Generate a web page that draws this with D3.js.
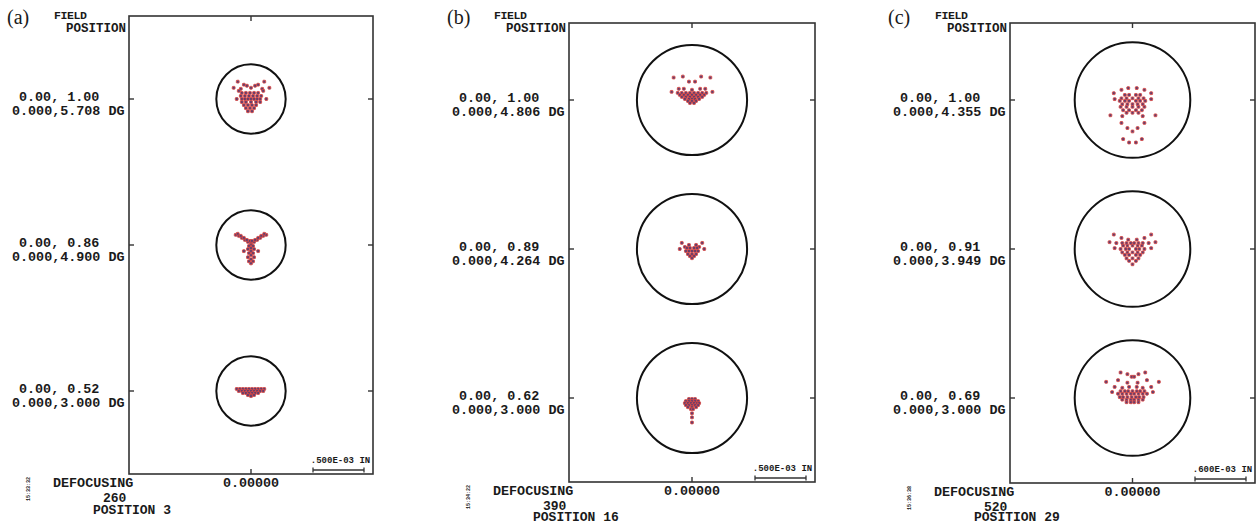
<!DOCTYPE html>
<html>
<head>
<meta charset="utf-8">
<script src="https://cdn.jsdelivr.net/npm/d3@7"></script>
<style>
  body { margin: 0; background: #fff; }
  text { font-family: "Liberation Mono", "DejaVu Sans Mono", monospace; font-weight: bold; fill: #1a1a1a; }
  .tag { font-family: "Liberation Serif", "DejaVu Serif", serif; font-weight: normal; }
</style>
</head>
<body>
<div class="canvas"></div>
<script>
var w = 1259;
var h = 525;

// ---- data ----
var panelTags = ["(a)", "(b)", "(c)"];
var fieldNorm = [
    ["0.00, 1.00", "0.00, 0.86", "0.00, 0.52"],
    ["0.00, 1.00", "0.00, 0.89", "0.00, 0.62"],
    ["0.00, 1.00", "0.00, 0.91", "0.00, 0.69"]];
var fieldAngle = [
    ["0.000,5.708 DG", "0.000,4.900 DG", "0.000,3.000 DG"],
    ["0.000,4.806 DG", "0.000,4.264 DG", "0.000,3.000 DG"],
    ["0.000,4.355 DG", "0.000,3.949 DG", "0.000,3.000 DG"]];
var defocusing = ["260", "390", "520"];
var positionLabel = ["POSITION 3", "POSITION 16", "POSITION 29"];
var timeStamp = ["15:33:32", "15:34:22", "15:36:38"];
var scaleLabel = [".500E-03 IN", ".500E-03 IN", ".600E-03 IN"];
var scaleValue = [50, 50, 60];     // units of 1e-5 IN
var airyRadius = [34, 54, 68];     // units of 1e-5 IN

// spot points, [x, y] in 1e-5 IN, y up
var spotA1 = [[-13,17],[13,17],[-17,11],[18,11],[-7,14],[7,14],[-10,10],[11,10],[-14,0],[15,0],[0,11],[-4,13],[4,13],[-12,8],[12,8],
    [-9,6],[-5,6],[-1,6],[3,6],[7,6],[-10,3],[-6,3],[-2,3],[2,3],[6,3],[10,3],
    [-9,0],[-6,0],[-3,0],[0,0],[3,0],[6,0],[9,0],[-9,-3],[-5,-3],[0,-3],[5,-3],[9,-3],
    [-7,-6],[-3,-6],[1,-6],[5,-6],[-5,-9],[-1,-9],[3,-9],[-3,-12],[1,-12]];
var spotA2 = [[-15,10],[-12,9],[-9,7],[-6,5],[-3,3],[0,2],[3,3],[6,5],[9,7],[12,9],[15,10],
    [-13,11],[13,11],[-10,9],[10,9],[-7,7],[7,7],[-4,5],[4,5],[-1,4],[1,4],
    [0,0],[-2,-1],[2,-1],[0,-3],[-3,-4],[3,-4],[0,-6],[-2,-8],[2,-8],[0,-10],[-3,-12],[3,-12],
    [0,-14],[-2,-16],[2,-16],[0,-18],[-7,-6],[7,-6]];
var spotA3 = [[-14,2],[-11,2],[-8,2],[-5,2],[-2,2],[1,2],[4,2],[7,2],[10,2],[13,2],
    [-12,0],[-9,0],[-6,0],[-3,0],[0,0],[3,0],[6,0],[9,0],[12,0],
    [-8,-2],[-5,-2],[-2,-2],[1,-2],[4,-2],[7,-2],[-3,-4],[0,-4],[3,-4],[0,-5]];
var spotB1 = [[-18,22],[-9,23],[9,23],[18,22],[-3,18],[3,18],[-20,8],[-13,11],[-8,11],[0,10],[8,11],[13,11],[20,8],
    [-14,7],[-10,7],[-6,7],[-2,7],[2,7],[6,7],[10,7],[14,7],
    [-12,5],[-8,5],[-4,5],[0,5],[4,5],[8,5],[12,5],
    [-10,3],[-6,3],[-2,3],[2,3],[6,3],[10,3],
    [-7,1],[-3,1],[0,1],[3,1],[7,1],[-4,-1],[0,-1],[4,-1],[-2,-3],[2,-3]];
var spotB2 = [[-10,6],[-3,4],[4,4],[10,6],[-12,0],[12,0],[-7,2],[7,2],
    [-5,1],[-2,1],[2,1],[5,1],[-6,-2],[-3,-2],[0,-2],[3,-2],[6,-2],
    [-4,-5],[0,-5],[4,-5],[-2,-7],[2,-7],[0,-9]];
var spotB3 = [[-3,-1],[0,-1],[3,-1],[-6,-3],[-3,-3],[0,-3],[3,-3],[6,-3],
    [-7,-5],[-4,-5],[-1,-5],[2,-5],[5,-5],[7,-5],[-6,-7],[-3,-7],[0,-7],[3,-7],[6,-7],
    [-4,-9],[0,-9],[4,-9],[-1,-11],[1,-11],[0,-15],[0,-19],[0,-24]];
var spotC1 = [[-22,8],[-13,12],[-5,14],[5,14],[14,12],[22,8],[-21,1],[22,1],[-26,-18],[27,-18],
    [-13,-27],[14,-27],[-6,-33],[0,-37],[6,-33],[-11,-46],[-4,-50],[4,-50],[11,-46],
    [-9,6],[-4,6],[4,6],[9,6],[-13,2],[-7,2],[0,2],[7,2],[13,2],
    [-15,-1],[-9,-1],[-4,-1],[4,-1],[9,-1],[15,-1],[-12,-5],[-6,-5],[0,-5],[6,-5],[12,-5],
    [-14,-8],[-7,-8],[0,-8],[7,-8],[14,-8],[-11,-12],[-4,-12],[4,-12],[11,-12],
    [-7,-15],[0,-15],[7,-15],[-12,-19],[12,-19]];
var spotC2 = [[-22,17],[-13,13],[-5,11],[5,11],[14,13],[22,17],[-27,8],[-19,7],[-12,7],[12,7],[19,7],[27,8],[-21,1],[22,1],
    [-7,7],[-2,7],[2,7],[7,7],[-11,4],[-6,4],[0,4],[6,4],[11,4],
    [-14,0],[-8,0],[-4,0],[4,0],[8,0],[14,0],[-12,-4],[-6,-4],[0,-4],[6,-4],[12,-4],
    [-9,-7],[-4,-7],[4,-7],[9,-7],[-7,-11],[0,-11],[7,-11],[-4,-14],[4,-14],[0,-18]];
var spotC3 = [[-14,30],[-6,28],[7,28],[15,30],[-1,25],[2,25],[-31,19],[31,19],[-17,21],[17,21],
    [-6,18],[6,18],[-4,13],[5,13],[-21,13],[22,13],[-24,7],[24,7],[-12,12],[12,12],
    [-14,8],[-9,8],[-5,8],[0,8],[5,8],[9,8],[14,8],
    [-17,5],[-12,5],[-7,5],[-2,5],[2,5],[7,5],[12,5],[17,5],
    [-15,1],[-11,1],[-6,1],[-1,1],[4,1],[8,1],[13,1],
    [-12,-2],[-7,-2],[-2,-2],[2,-2],[7,-2],[12,-2],[-7,-5],[-2,-5],[2,-5],[7,-5]];
var spots = [[spotA1, spotA2, spotA3], [spotB1, spotB2, spotB3], [spotC1, spotC2, spotC3]];

// ---- layout ----
var boxes = [
    {x: 129, y: 16, w: 244, h: 458, f0: 99, f2: 391, ppu: 1.02},
    {x: 569, y: 23, w: 246, h: 459, f0: 100, f2: 398, ppu: 1.02},
    {x: 1010, y: 23, w: 245, h: 460, f0: 100, f2: 398, ppu: 0.85}];

var svg = d3.select(".canvas").append("svg")
    .attr("width", w)
    .attr("height", h);

boxes.forEach(function (b, i) {
    var g = svg.append("g");
    var cx = b.x + b.w / 2;
    var bottom = b.y + b.h;
    var right = b.x + b.w;

    var fy = d3.scalePoint()
        .domain([0, 1, 2])
        .range([b.f0, b.f2]);

    g.append("rect")
        .attr("x", b.x).attr("y", b.y)
        .attr("width", b.w).attr("height", b.h)
        .attr("fill", "none")
        .attr("stroke", "#333")
        .attr("stroke-width", 1.6);

    // ticks
    g.append("line").attr("x1", cx).attr("x2", cx).attr("y1", b.y).attr("y2", b.y + 5)
        .attr("stroke", "#333").attr("stroke-width", 1.4);
    g.append("line").attr("x1", cx).attr("x2", cx).attr("y1", bottom).attr("y2", bottom - 5)
        .attr("stroke", "#333").attr("stroke-width", 1.4);

    g.selectAll(".lt").data([0, 1, 2]).enter().append("line")
        .attr("x1", b.x).attr("x2", b.x + 5)
        .attr("y1", function (d) { return fy(d); })
        .attr("y2", function (d) { return fy(d); })
        .attr("stroke", "#333").attr("stroke-width", 1.4);
    g.selectAll(".rt").data([0, 1, 2]).enter().append("line")
        .attr("x1", right).attr("x2", right - 5)
        .attr("y1", function (d) { return fy(d); })
        .attr("y2", function (d) { return fy(d); })
        .attr("stroke", "#333").attr("stroke-width", 1.4);

    // tag & headings
    g.append("text").attr("class", "tag")
        .attr("x", b.x - 122).attr("y", 24)
        .style("font-size", "20px")
        .text(panelTags[i]);
    g.append("text")
        .attr("x", b.x - 75).attr("y", 19)
        .style("font-size", "11.5px")
        .attr("textLength", 33)
        .text("FIELD");
    g.append("text")
        .attr("x", b.x - 3).attr("y", 32)
        .attr("text-anchor", "end")
        .style("font-size", "12.5px")
        .text("POSITION");

    // field labels and spots
    [0, 1, 2].forEach(function (k) {
        g.append("text")
            .attr("x", b.x - 110).attr("y", fy(k) + 2)
            .style("font-size", "13.4px")
            .text(fieldNorm[i][k]);
        g.append("text")
            .attr("x", b.x - 117).attr("y", fy(k) + 16)
            .style("font-size", "13.4px")
            .text(fieldAngle[i][k]);

        var x = d3.scaleLinear().domain([0, 1]).range([cx, cx + b.ppu]);
        var y = d3.scaleLinear().domain([0, 1]).range([fy(k), fy(k) - b.ppu]);

        g.append("circle")
            .attr("cx", x(0)).attr("cy", y(0))
            .attr("r", x(airyRadius[i]) - x(0))
            .attr("fill", "none")
            .attr("stroke", "#111")
            .attr("stroke-width", 2);

        g.selectAll(".spot" + k).data(spots[i][k]).enter().append("rect")
            .attr("x", function (d) { return x(d[0]) - 1.4; })
            .attr("y", function (d) { return y(d[1]) - 1.4; })
            .attr("width", 2.8).attr("height", 2.8)
            .attr("rx", 0.6)
            .attr("fill", "#5a3f72")
            .attr("stroke", "#dc4a44")
            .attr("stroke-width", 0.9);
    });

    // scale bar
    var sx = d3.scaleLinear().domain([0, scaleValue[i]]).range([right - 9 - scaleValue[i] * b.ppu, right - 9]);
    var barY = bottom - 4;
    g.append("line").attr("x1", sx(0)).attr("x2", sx(scaleValue[i])).attr("y1", barY).attr("y2", barY)
        .attr("stroke", "#333").attr("stroke-width", 1.3);
    [0, scaleValue[i]].forEach(function (v) {
        g.append("line").attr("x1", sx(v)).attr("x2", sx(v)).attr("y1", barY - 2.5).attr("y2", barY + 2.5)
            .attr("stroke", "#333").attr("stroke-width", 1.3);
    });
    g.append("text")
        .attr("x", (sx(0) + sx(scaleValue[i])) / 2 + 2).attr("y", bottom - 11)
        .attr("text-anchor", "middle")
        .style("font-size", "9px")
        .text(scaleLabel[i]);

    // bottom labels
    g.append("text").attr("x", b.x - 76).attr("y", bottom + 13)
        .style("font-size", "13.4px").text("DEFOCUSING");
    g.append("text").attr("x", cx).attr("y", bottom + 13)
        .attr("text-anchor", "middle")
        .style("font-size", "13.4px").text("0.00000");
    g.append("text").attr("x", b.x - 26).attr("y", bottom + 28)
        .style("font-size", "13px").text(defocusing[i]);
    g.append("text").attr("x", b.x - 36).attr("y", Math.min(bottom + 40, 521))
        .style("font-size", "13px").text(positionLabel[i]);

    g.append("text")
        .attr("transform", "translate(" + (b.x - 99) + "," + (bottom + 27) + ") rotate(-90)")
        .style("font-size", "5px")
        .text(timeStamp[i]);
});
</script>
</body>
</html>
